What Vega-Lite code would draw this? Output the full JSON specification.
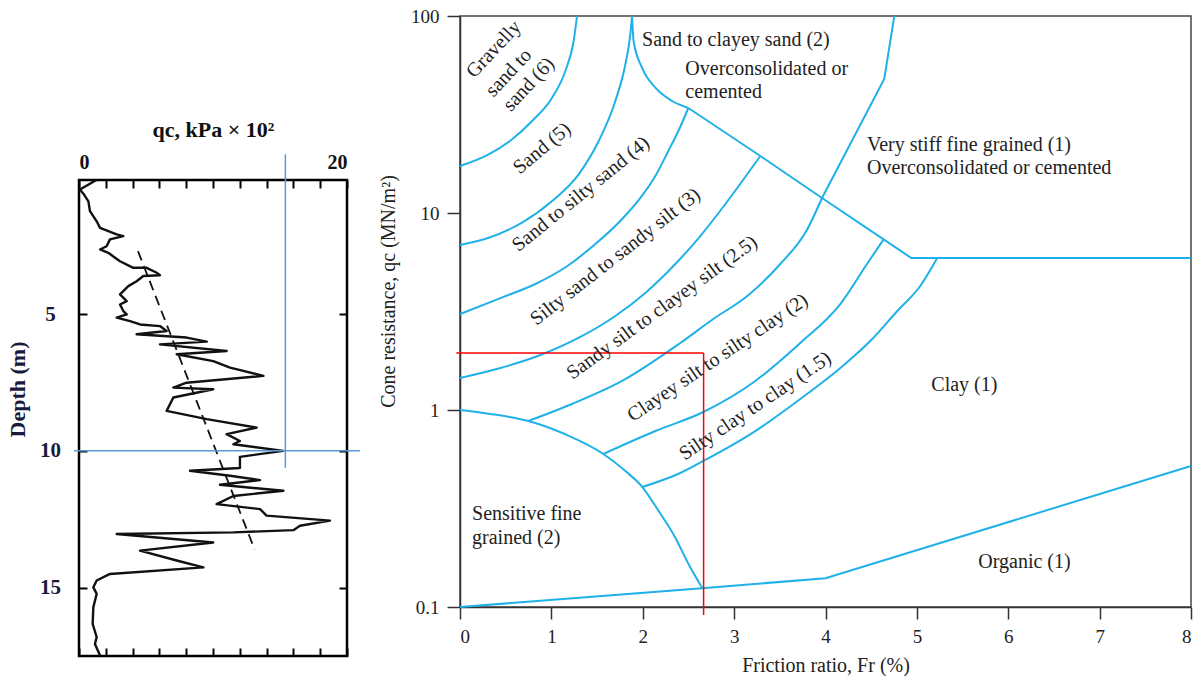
{
  "$schema": "https://vega.github.io/schema/vega-lite/v6.json",
  "padding": {"left": 5, "top": 6, "right": 0, "bottom": 0},
  "background": "white",
  "config": {"view": {"stroke": null}, "font": "Liberation Serif"},
  "datasets": {
    "cpt": [
      {"i":0,"qc":1.3,"d":0.1},{"i":1,"qc":0.07,"d":0.45},{"i":2,"qc":0.4,"d":0.65},{"i":3,"qc":0.7,"d":0.88},{"i":4,"qc":0.82,"d":1.24},
      {"i":5,"qc":1.32,"d":1.61},{"i":6,"qc":1.57,"d":1.85},{"i":7,"qc":2.81,"d":2.09},{"i":8,"qc":3.31,"d":2.15},{"i":9,"qc":2.31,"d":2.27},
      {"i":10,"qc":2.06,"d":2.52},{"i":11,"qc":1.57,"d":2.64},{"i":12,"qc":2.19,"d":2.76},{"i":13,"qc":2.69,"d":2.94},{"i":14,"qc":3.06,"d":3.07},
      {"i":15,"qc":4.05,"d":3.31},{"i":16,"qc":5.05,"d":3.31},{"i":17,"qc":5.8,"d":3.49},{"i":18,"qc":6.04,"d":3.58},{"i":19,"qc":4.8,"d":3.61},
      {"i":20,"qc":4.3,"d":3.8},{"i":21,"qc":3.68,"d":3.98},{"i":22,"qc":3.06,"d":4.28},{"i":23,"qc":3.56,"d":4.53},{"i":24,"qc":3.06,"d":4.65},
      {"i":25,"qc":3.31,"d":4.89},{"i":26,"qc":3.56,"d":5.01},{"i":27,"qc":2.81,"d":5.13},{"i":28,"qc":3.81,"d":5.26},{"i":29,"qc":4.55,"d":5.38},
      {"i":30,"qc":6.04,"d":5.44},{"i":31,"qc":6.54,"d":5.62},{"i":32,"qc":4.3,"d":5.74},{"i":33,"qc":8.03,"d":5.86},{"i":34,"qc":9.53,"d":6.01},
      {"i":35,"qc":6.04,"d":6.11},{"i":36,"qc":11.02,"d":6.35},{"i":37,"qc":7.29,"d":6.47},{"i":38,"qc":10.02,"d":6.72},{"i":39,"qc":11.27,"d":6.96},
      {"i":40,"qc":13.76,"d":7.26},{"i":41,"qc":8.03,"d":7.51},{"i":42,"qc":7.04,"d":7.69},{"i":43,"qc":10.02,"d":7.75},{"i":44,"qc":7.04,"d":8.05},
      {"i":45,"qc":6.54,"d":8.54},{"i":46,"qc":9.53,"d":8.84},{"i":47,"qc":13.26,"d":9.15},{"i":48,"qc":11.02,"d":9.39},{"i":49,"qc":12.01,"d":9.64},
      {"i":50,"qc":11.52,"d":9.76},{"i":51,"qc":15.25,"d":10.0},{"i":52,"qc":12.01,"d":10.22},{"i":53,"qc":12.01,"d":10.63},{"i":54,"qc":8.28,"d":10.73},
      {"i":55,"qc":11.27,"d":10.91},{"i":56,"qc":13.51,"d":11.07},{"i":57,"qc":10.52,"d":11.24},{"i":58,"qc":15.25,"d":11.46},{"i":59,"qc":11.52,"d":11.65},
      {"i":60,"qc":10.27,"d":11.95},{"i":61,"qc":13.51,"d":12.13},{"i":62,"qc":14.0,"d":12.37},{"i":63,"qc":18.73,"d":12.55},{"i":64,"qc":16.49,"d":12.74},
      {"i":65,"qc":16.0,"d":12.9},{"i":66,"qc":11.52,"d":12.98},{"i":67,"qc":2.81,"d":13.04},{"i":68,"qc":10.02,"d":13.35},{"i":69,"qc":4.55,"d":13.65},
      {"i":70,"qc":7.29,"d":14.01},{"i":71,"qc":9.28,"d":14.26},{"i":72,"qc":2.31,"d":14.5},{"i":73,"qc":1.32,"d":14.74},{"i":74,"qc":1.07,"d":14.99},
      {"i":75,"qc":1.32,"d":15.23},{"i":76,"qc":1.07,"d":15.72},{"i":77,"qc":1.02,"d":16.33},{"i":78,"qc":1.32,"d":16.81},{"i":79,"qc":1.19,"d":17.06},
      {"i":80,"qc":1.57,"d":17.48}
    ],
    "trend": [{"qc":4.4,"d":2.7},{"qc":13.1,"d":13.6}],
    "guideL": [
      {"qc":-0.37,"qc2":20.97,"d":10,"d2":10},
      {"qc":15.4,"qc2":15.4,"d":-0.84,"d2":10.62}
    ],
    "curves": [
      {"c":"c1","i":0,"fr":0,"qc":17.33},{"c":"c1","i":1,"fr":0.314,"qc":19.86},{"c":"c1","i":2,"fr":0.57,"qc":23.66},{"c":"c1","i":3,"fr":0.789,"qc":29.31},{"c":"c1","i":4,"fr":1.008,"qc":38.48},{"c":"c1","i":5,"fr":1.153,"qc":52.58},{"c":"c1","i":6,"fr":1.244,"qc":74.67},{"c":"c1","i":7,"fr":1.281,"qc":100},
      {"c":"c2","i":0,"fr":0,"qc":6.88},{"c":"c2","i":1,"fr":0.314,"qc":7.49},{"c":"c2","i":2,"fr":0.679,"qc":8.93},{"c":"c2","i":3,"fr":1.008,"qc":11.5},{"c":"c2","i":4,"fr":1.299,"qc":15.72},{"c":"c2","i":5,"fr":1.518,"qc":23.2},{"c":"c2","i":6,"fr":1.7,"qc":37.03},{"c":"c2","i":7,"fr":1.81,"qc":56.86},{"c":"c2","i":8,"fr":1.864,"qc":80.75},{"c":"c2","i":9,"fr":1.883,"qc":100},
      {"c":"cu","i":0,"fr":1.883,"qc":100},{"c":"cu","i":1,"fr":1.9,"qc":74.67},{"c":"cu","i":2,"fr":1.992,"qc":54.65},{"c":"cu","i":3,"fr":2.138,"qc":43.25},{"c":"cu","i":4,"fr":2.321,"qc":37.03},{"c":"cu","i":5,"fr":2.499,"qc":34.12},
      {"c":"ca","i":0,"fr":0,"qc":3.07},{"c":"ca","i":1,"fr":0.442,"qc":3.7},{"c":"ca","i":2,"fr":0.825,"qc":4.36},{"c":"ca","i":3,"fr":1.175,"qc":5.38},{"c":"ca","i":4,"fr":1.481,"qc":6.96},{"c":"ca","i":5,"fr":1.733,"qc":8.9},{"c":"ca","i":6,"fr":1.974,"qc":11.92},{"c":"ca","i":7,"fr":2.138,"qc":15.41},{"c":"ca","i":8,"fr":2.28,"qc":20.64},{"c":"ca","i":9,"fr":2.4,"qc":26.7},{"c":"ca","i":10,"fr":2.499,"qc":34.12},
      {"c":"cb","i":0,"fr":0,"qc":1.454},{"c":"cb","i":1,"fr":0.442,"qc":1.634},{"c":"cb","i":2,"fr":0.88,"qc":1.902},{"c":"cb","i":3,"fr":1.317,"qc":2.348},{"c":"cb","i":4,"fr":1.7,"qc":3.0},{"c":"cb","i":5,"fr":2.028,"qc":3.93},{"c":"cb","i":6,"fr":2.357,"qc":5.51},{"c":"cb","i":7,"fr":2.63,"qc":7.64},{"c":"cb","i":8,"fr":2.871,"qc":10.6},{"c":"cb","i":9,"fr":3.09,"qc":14.54},{"c":"cb","i":10,"fr":3.287,"qc":19.47},
      {"c":"cc","i":0,"fr":0.748,"qc":0.88},{"c":"cc","i":1,"fr":1.226,"qc":1.073},{"c":"cc","i":2,"fr":1.774,"qc":1.404},{"c":"cc","i":3,"fr":2.411,"qc":2.188},{"c":"cc","i":4,"fr":2.772,"qc":2.897},{"c":"cc","i":5,"fr":3.144,"qc":3.79},{"c":"cc","i":6,"fr":3.505,"qc":5.51},{"c":"cc","i":7,"fr":3.79,"qc":8.1},{"c":"cc","i":8,"fr":3.962,"qc":11.92},
      {"c":"cd","i":0,"fr":1.569,"qc":0.598},{"c":"cd","i":1,"fr":2.138,"qc":0.782},{"c":"cd","i":2,"fr":2.663,"qc":0.977},{"c":"cd","i":3,"fr":3.232,"qc":1.404},{"c":"cd","i":4,"fr":3.724,"qc":2.188},{"c":"cd","i":5,"fr":4.162,"qc":3.45},{"c":"cd","i":6,"fr":4.454,"qc":5.51},{"c":"cd","i":7,"fr":4.636,"qc":7.35},
      {"c":"ce","i":0,"fr":1.996,"qc":0.4065},{"c":"ce","i":1,"fr":2.411,"qc":0.4788},{"c":"ce","i":2,"fr":2.663,"qc":0.551},{"c":"ce","i":3,"fr":3.232,"qc":0.782},{"c":"ce","i":4,"fr":3.724,"qc":1.137},{"c":"ce","i":5,"fr":4.162,"qc":1.634},{"c":"ce","i":6,"fr":4.49,"qc":2.24},{"c":"ce","i":7,"fr":4.786,"qc":3.18},{"c":"ce","i":8,"fr":5.037,"qc":4.26},{"c":"ce","i":9,"fr":5.223,"qc":5.91},
      {"c":"arc","i":0,"fr":0,"qc":1.0},{"c":"arc","i":1,"fr":0.314,"qc":0.958},{"c":"arc","i":2,"fr":0.748,"qc":0.88},{"c":"arc","i":3,"fr":1.153,"qc":0.753},{"c":"arc","i":4,"fr":1.569,"qc":0.598},{"c":"arc","i":5,"fr":1.81,"qc":0.49},{"c":"arc","i":6,"fr":1.996,"qc":0.4065},{"c":"arc","i":7,"fr":2.174,"qc":0.307},{"c":"arc","i":8,"fr":2.357,"qc":0.2248},{"c":"arc","i":9,"fr":2.502,"qc":0.1647},{"c":"arc","i":10,"fr":2.649,"qc":0.1253}
    ],
    "straight": [
      {"c":"diag","i":0,"fr":2.499,"qc":34.12},{"c":"diag","i":1,"fr":3.287,"qc":19.47},{"c":"diag","i":2,"fr":3.962,"qc":11.92},{"c":"diag","i":3,"fr":4.636,"qc":7.35},{"c":"diag","i":4,"fr":4.939,"qc":5.91},{"c":"diag","i":5,"fr":8,"qc":5.91},
      {"c":"stiff","i":0,"fr":3.962,"qc":11.92},{"c":"stiff","i":1,"fr":4.643,"qc":47.88},{"c":"stiff","i":2,"fr":4.753,"qc":100},
      {"c":"bot","i":0,"fr":0,"qc":0.1},{"c":"bot","i":1,"fr":2.649,"qc":0.1245},{"c":"bot","i":2,"fr":4.0,"qc":0.14},{"c":"bot","i":3,"fr":8,"qc":0.52}
    ],
    "red": [
      {"fr":-0.04,"fr2":2.666,"qc":1.947,"qc2":1.947},
      {"fr":2.666,"fr2":2.666,"qc":1.947,"qc2":0.0911}
    ],
    "zones": [
      {"g":"r47","t":"Gravelly","fr":0.369,"qc":67.8},
      {"g":"r47","t":"sand to","fr":0.533,"qc":51.5},
      {"g":"r47","t":"sand (6)","fr":0.752,"qc":45.0},
      {"g":"r40","t":"Sand (5)","fr":0.898,"qc":21.3},
      {"g":"r39","t":"Sand to silty sand (4)","fr":1.323,"qc":12.49},
      {"g":"r38","t":"Silty sand to sandy silt (3)","fr":1.7,"qc":6.0},
      {"g":"r36","t":"Sandy silt to clayey silt (2.5)","fr":2.211,"qc":3.31},
      {"g":"r34","t":"Clayey silt to silty clay (2)","fr":2.82,"qc":1.843},
      {"g":"r34","t":"Silty clay to clay (1.5)","fr":3.232,"qc":1.048},
      {"g":"h","t":"Sand to clayey sand (2)","fr":1.992,"qc":75.3},
      {"g":"h","t":"Overconsolidated or","fr":2.466,"qc":54.0},
      {"g":"h","t":"cemented","fr":2.466,"qc":41.3},
      {"g":"h","t":"Very stiff fine grained (1)","fr":4.454,"qc":22.1},
      {"g":"h","t":"Overconsolidated or cemented","fr":4.454,"qc":16.98},
      {"g":"h","t":"Clay (1)","fr":5.158,"qc":1.339},
      {"g":"h","t":"Sensitive fine","fr":0.132,"qc":0.2955},
      {"g":"h","t":"grained (2)","fr":0.132,"qc":0.2248},
      {"g":"h","t":"Organic (1)","fr":5.672,"qc":0.1692}
    ]
  },
  "spacing": 15,
  "hconcat": [
    {
      "spacing": 0,
      "vconcat": [
        {
          "width": 268,
          "height": 100,
          "data": {"values": [{"a": 1}]},
          "mark": {"type": "point", "opacity": 0}
        },
        {
          "width": 268,
          "height": 476,
          "view": {"stroke": "#000", "strokeWidth": 2.5},
          "layer": [
            {
              "data": {"name": "cpt"},
              "mark": {"type": "line", "color": "#111", "strokeWidth": 2.4, "strokeJoin": "round"},
              "encoding": {
                "x": {"field": "qc", "type": "quantitative",
                  "scale": {"domain": [0, 20], "nice": false, "zero": false},
                  "axis": {"orient": "top", "values": [0,2,4,6,8,10,12,14,16,18,20],
                    "labelExpr": "datum.value == 0 || datum.value == 20 ? datum.label : ''",
                    "labelFlush": true,
                    "tickSize": -8, "tickWidth": 2, "tickColor": "#000", "domain": false, "grid": false,
                    "labelPadding": 16, "labelFontSize": 20, "labelFontWeight": "bold", "labelColor": "#111",
                    "title": "qc, kPa × 10²", "titleFontSize": 22, "titleFontWeight": "bold", "titleColor": "#111", "titlePadding": 11}},
                "y": {"field": "d", "type": "quantitative",
                  "scale": {"domain": [0.1, 17.5], "nice": false, "zero": false, "reverse": true},
                  "axis": {"orient": "left", "values": [5, 10, 15],
                    "tickSize": -8, "tickWidth": 2, "tickColor": "#000", "domain": false, "grid": false,
                    "labelPadding": 37, "labelAlign": "center", "labelFontSize": 21, "labelFontWeight": "bold", "labelColor": "#1a1a3a",
                    "title": "Depth (m)", "titleFontSize": 22, "titleFontWeight": "bold", "titleColor": "#1a1a3a", "titlePadding": 10, "titleY": 209}},
                "order": {"field": "i"}
              }
            },
            {
              "data": {"name": "trend"},
              "mark": {"type": "line", "color": "#111", "strokeWidth": 1.8, "strokeDash": [10, 6]},
              "encoding": {
                "x": {"field": "qc", "type": "quantitative",
                  "axis": {"orient": "bottom", "values": [0,2,4,6,8,10,12,14,16,18,20], "labels": false,
                    "tickSize": -8, "tickWidth": 2, "tickColor": "#000", "domain": false, "grid": false, "title": null}},
                "y": {"field": "d", "type": "quantitative",
                  "axis": {"orient": "right", "values": [5, 10, 15], "labels": false,
                    "tickSize": -8, "tickWidth": 2, "tickColor": "#000", "domain": false, "grid": false, "title": null}}
              }
            },
            {
              "data": {"name": "guideL"},
              "mark": {"type": "rule", "color": "#5b9bd5", "strokeWidth": 1.5},
              "encoding": {
                "x": {"field": "qc", "type": "quantitative", "axis": null},
                "x2": {"field": "qc2"},
                "y": {"field": "d", "type": "quantitative", "axis": null},
                "y2": {"field": "d2"}
              }
            }
          ],
          "resolve": {"axis": {"x": "independent", "y": "independent"}}
        }
      ]
    },
    {
      "width": 731,
      "height": 591,
      "view": {"stroke": "#444", "strokeWidth": 1.5},
      "layer": [
        {
          "data": {"name": "curves"},
          "mark": {"type": "line", "color": "#1fb1e8", "strokeWidth": 2, "interpolate": "monotone"},
          "encoding": {
            "x": {"field": "fr", "type": "quantitative",
              "scale": {"domain": [0, 8], "nice": false, "zero": false},
              "axis": {"values": [0,0.5,1,1.5,2,2.5,3,3.5,4,4.5,5,5.5,6,6.5,7,7.5,8],
                "format": "d",
                "labelExpr": "datum.value % 1 == 0 ? datum.label : ''",
                "tickSize": {"condition": {"test": "datum.value % 1 != 0", "value": -7}, "value": 12},
                "tickColor": "#333", "tickWidth": 1.5, "domainColor": "#333", "domainWidth": 1.5, "grid": false,
                "labelPadding": 8, "labelFontSize": 19, "labelColor": "#222",
                "title": "Friction ratio, Fr (%)", "titleFontSize": 20, "titleFontWeight": "normal", "titleColor": "#222", "titlePadding": 9}},
            "y": {"field": "qc", "type": "quantitative",
              "scale": {"type": "log", "domain": [0.1, 100], "nice": false},
              "axis": {"values": [0.1, 1, 10, 100], "format": "~g",
                "tickSize": 13, "tickColor": "#333", "tickWidth": 1.5, "domainColor": "#333", "domainWidth": 1.5, "grid": false,
                "labelPadding": 8, "labelFontSize": 19, "labelColor": "#222",
                "title": "Cone resistance, qc (MN/m²)", "titleFontSize": 20, "titleFontWeight": "normal", "titleColor": "#222", "titlePadding": 12, "titleY": 275}},
            "detail": {"field": "c"},
            "order": {"field": "i"}
          }
        },
        {
          "data": {"name": "straight"},
          "mark": {"type": "line", "color": "#1fb1e8", "strokeWidth": 2},
          "encoding": {
            "x": {"field": "fr", "type": "quantitative"},
            "y": {"field": "qc", "type": "quantitative"},
            "detail": {"field": "c"},
            "order": {"field": "i"}
          }
        },
        {
          "data": {"name": "red"},
          "mark": {"type": "rule", "color": "#ff0000", "strokeWidth": 1.5},
          "encoding": {
            "x": {"field": "fr", "type": "quantitative"},
            "x2": {"field": "fr2"},
            "y": {"field": "qc", "type": "quantitative"},
            "y2": {"field": "qc2"}
          }
        },
        {
          "data": {"name": "zones"},
          "transform": [{"filter": "datum.g == 'r47'"}],
          "mark": {"type": "text", "angle": -47, "fontSize": 20, "color": "#222", "align": "center", "baseline": "middle"},
          "encoding": {"x": {"field": "fr", "type": "quantitative"}, "y": {"field": "qc", "type": "quantitative"}, "text": {"field": "t"}}
        },
        {
          "data": {"name": "zones"},
          "transform": [{"filter": "datum.g == 'r40'"}],
          "mark": {"type": "text", "angle": -40, "fontSize": 20, "color": "#222", "align": "center", "baseline": "middle"},
          "encoding": {"x": {"field": "fr", "type": "quantitative"}, "y": {"field": "qc", "type": "quantitative"}, "text": {"field": "t"}}
        },
        {
          "data": {"name": "zones"},
          "transform": [{"filter": "datum.g == 'r39'"}],
          "mark": {"type": "text", "angle": -39, "fontSize": 20, "color": "#222", "align": "center", "baseline": "middle"},
          "encoding": {"x": {"field": "fr", "type": "quantitative"}, "y": {"field": "qc", "type": "quantitative"}, "text": {"field": "t"}}
        },
        {
          "data": {"name": "zones"},
          "transform": [{"filter": "datum.g == 'r38'"}],
          "mark": {"type": "text", "angle": -38, "fontSize": 20, "color": "#222", "align": "center", "baseline": "middle"},
          "encoding": {"x": {"field": "fr", "type": "quantitative"}, "y": {"field": "qc", "type": "quantitative"}, "text": {"field": "t"}}
        },
        {
          "data": {"name": "zones"},
          "transform": [{"filter": "datum.g == 'r36'"}],
          "mark": {"type": "text", "angle": -36, "fontSize": 20, "color": "#222", "align": "center", "baseline": "middle"},
          "encoding": {"x": {"field": "fr", "type": "quantitative"}, "y": {"field": "qc", "type": "quantitative"}, "text": {"field": "t"}}
        },
        {
          "data": {"name": "zones"},
          "transform": [{"filter": "datum.g == 'r34'"}],
          "mark": {"type": "text", "angle": -34, "fontSize": 20, "color": "#222", "align": "center", "baseline": "middle"},
          "encoding": {"x": {"field": "fr", "type": "quantitative"}, "y": {"field": "qc", "type": "quantitative"}, "text": {"field": "t"}}
        },
        {
          "data": {"name": "zones"},
          "transform": [{"filter": "datum.g == 'h'"}],
          "mark": {"type": "text", "fontSize": 20, "color": "#222", "align": "left", "baseline": "middle"},
          "encoding": {"x": {"field": "fr", "type": "quantitative"}, "y": {"field": "qc", "type": "quantitative"}, "text": {"field": "t"}}
        }
      ]
    }
  ]
}
